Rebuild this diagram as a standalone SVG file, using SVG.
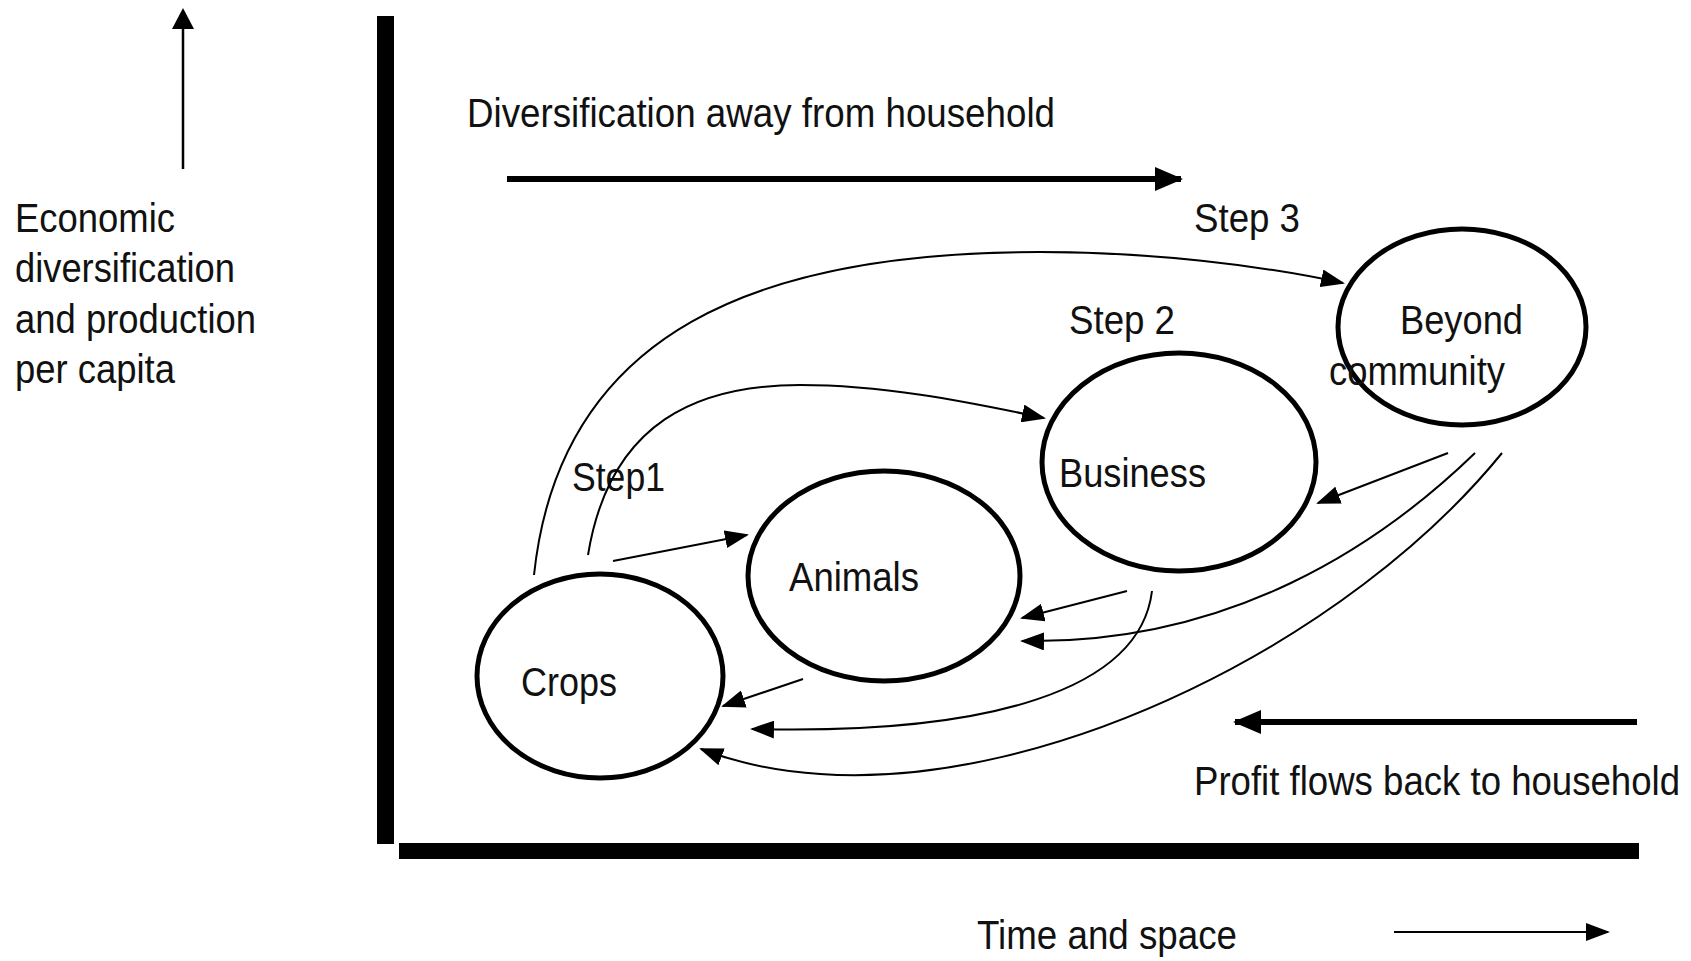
<svg xmlns="http://www.w3.org/2000/svg" width="1691" height="961" viewBox="0 0 1691 961">
<defs>
<style>
text{font-family:"Liberation Sans Narrow","Liberation Sans",Arial,sans-serif;font-size:40px;fill:#111;}
.node{fill:none;stroke:#000;stroke-width:5;}
.thin{fill:none;stroke:#000;stroke-width:2;}
.thick{fill:none;stroke:#000;stroke-width:6;}
</style>
<marker id="ah" markerUnits="userSpaceOnUse" markerWidth="24" markerHeight="18" viewBox="0 0 24 18" refX="22" refY="9" orient="auto">
<path d="M0,0 L24,9 L0,18 Z" fill="#000"/>
</marker>
<marker id="ahb" markerUnits="userSpaceOnUse" markerWidth="28" markerHeight="24" viewBox="0 0 28 24" refX="26" refY="12" orient="auto">
<path d="M0,0 L28,12 L0,24 Z" fill="#000"/>
</marker>
</defs>
<rect width="1691" height="961" fill="#fff"/>
<g id="axes">
<rect x="377" y="16" width="17" height="828" fill="#000"/>
<rect x="399" y="843" width="1240" height="16" fill="#000"/>
<path d="M183,169 L183,28" stroke="#000" stroke-width="2.5"/>
<path d="M172,29 L183,8 L194,29 Z" fill="#000"/>
<path class="thin" d="M1394,932 L1608,932" marker-end="url(#ah)"/>
</g>
<g id="labels">
<text x="15" y="232" textLength="160" lengthAdjust="spacingAndGlyphs">Economic</text>
<text x="15" y="282" textLength="220" lengthAdjust="spacingAndGlyphs">diversification</text>
<text x="15" y="333" textLength="241" lengthAdjust="spacingAndGlyphs">and production</text>
<text x="15" y="383" textLength="160" lengthAdjust="spacingAndGlyphs">per capita</text>
<text x="467" y="127" textLength="588" lengthAdjust="spacingAndGlyphs">Diversification away from household</text>
<text x="1194" y="795" textLength="486" lengthAdjust="spacingAndGlyphs">Profit flows back to household</text>
<text x="977" y="949" textLength="260" lengthAdjust="spacingAndGlyphs">Time and space</text>
<text x="1194" y="232" textLength="106" lengthAdjust="spacingAndGlyphs">Step 3</text>
<text x="1069" y="334" textLength="106" lengthAdjust="spacingAndGlyphs">Step 2</text>
<text x="572" y="491" textLength="93" lengthAdjust="spacingAndGlyphs">Step1</text>
</g>
<g id="connectors">
<path class="thick" d="M507,179 L1181,179" marker-end="url(#ahb)"/>
<path class="thick" d="M1637,722 L1235,722" marker-end="url(#ahb)"/>
<path class="thin" d="M534,575 C560,330 760,252 1040,252 C1150,252 1260,265 1343,283" marker-end="url(#ah)"/>
<path class="thin" d="M588,555 C610,420 700,385 800,385 C880,385 960,400 1044,418" marker-end="url(#ah)"/>
<path class="thin" d="M613,561 L747,535" marker-end="url(#ah)"/>
<path class="thin" d="M1448,453 L1318,503" marker-end="url(#ah)"/>
<path class="thin" d="M1127,591 L1022,618" marker-end="url(#ah)"/>
<path class="thin" d="M803,679 L723,706" marker-end="url(#ah)"/>
<path class="thin" d="M1475,453 C1380,545 1230,645 1022,641" marker-end="url(#ah)"/>
<path class="thin" d="M1152,591 C1140,690 990,735 752,729" marker-end="url(#ah)"/>
<path class="thin" d="M1502,453 C1350,640 1050,790 820,774 C770,771 730,760 701,749" marker-end="url(#ah)"/>
</g>
<g id="crops">
<ellipse class="node" cx="600" cy="676" rx="123" ry="102"/>
<text x="521" y="696" textLength="96" lengthAdjust="spacingAndGlyphs">Crops</text>
</g>
<g id="animals">
<ellipse class="node" cx="884" cy="576" rx="136" ry="105"/>
<text x="789" y="591" textLength="130" lengthAdjust="spacingAndGlyphs">Animals</text>
</g>
<g id="business">
<ellipse class="node" cx="1179" cy="462" rx="137" ry="109"/>
<text x="1059" y="487" textLength="147" lengthAdjust="spacingAndGlyphs">Business</text>
</g>
<g id="beyond">
<ellipse class="node" cx="1462" cy="327" rx="124" ry="98"/>
<text x="1400" y="334" textLength="123" lengthAdjust="spacingAndGlyphs">Beyond</text>
<text x="1329" y="385" textLength="176" lengthAdjust="spacingAndGlyphs">community</text>
</g>
</svg>
